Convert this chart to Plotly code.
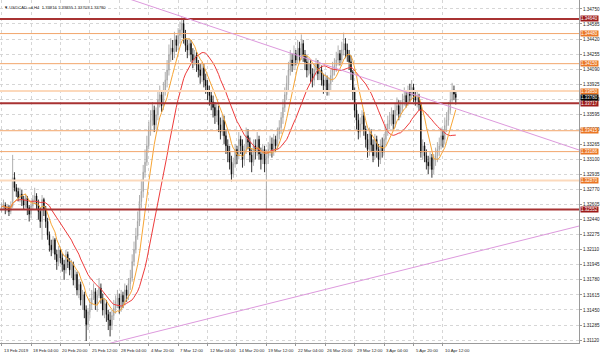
import numpy as np
import pandas as pd
import plotly.graph_objects as go

# ---------------- data ----------------
closes = [
1.3258,1.3260,1.3255,1.3258,1.3253,1.3259,1.3290,1.3279,1.3275,1.3268,
1.3272,1.3266,1.3260,1.3268,1.3257,1.3250,1.3259,1.3266,1.3270,1.3260,
1.3253,1.3242,1.3266,1.3255,1.3242,1.3227,1.3216,1.3211,1.3222,1.3206,
1.3198,1.3211,1.3202,1.3195,1.3189,1.3206,1.3198,1.3189,1.3195,1.3178,
1.3184,1.3167,1.3173,1.3156,1.3162,1.3145,1.3129,1.3143,1.3151,1.3158,
1.3165,1.3151,1.3161,1.3169,1.3158,1.3145,1.3152,1.3140,1.3134,1.3128,
1.3139,1.3147,1.3154,1.3158,1.3147,1.3161,1.3154,1.3167,1.3161,1.3174,
1.3180,1.3198,1.3211,1.3226,1.3242,1.3264,1.3275,1.3296,1.3307,1.3325,
1.3343,1.3353,1.3364,1.3348,1.3359,1.3375,1.3381,1.3369,1.3386,1.3397,
1.3408,1.3425,1.3432,1.3428,1.3441,1.3435,1.3446,1.3452,1.3459,1.3443,
1.3435,1.3430,1.3437,1.3425,1.3419,1.3424,1.3414,1.3408,1.3402,1.3410,
1.3397,1.3391,1.3384,1.3380,1.3373,1.3367,1.3358,1.3364,1.3348,1.3340,
1.3353,1.3336,1.3325,1.3318,1.3307,1.3294,1.3305,1.3321,1.3314,1.3332,
1.3325,1.3310,1.3321,1.3336,1.3329,1.3315,1.3307,1.3325,1.3318,1.3332,
1.3316,1.3310,1.3321,1.3305,1.3312,1.3321,1.3327,1.3321,1.3332,1.3325,
1.3338,1.3345,1.3356,1.3367,1.3381,1.3393,1.3408,1.3419,1.3413,1.3426,
1.3419,1.3432,1.3424,1.3437,1.3425,1.3417,1.3408,1.3415,1.3404,1.3397,
1.3408,1.3415,1.3404,1.3408,1.3397,1.3391,1.3397,1.3386,1.3393,1.3402,
1.3408,1.3413,1.3419,1.3426,1.3419,1.3430,1.3437,1.3430,1.3424,1.3417,
1.3406,1.3384,1.3364,1.3353,1.3340,1.3349,1.3358,1.3343,1.3332,1.3321,
1.3338,1.3326,1.3314,1.3332,1.3321,1.3310,1.3325,1.3318,1.3332,1.3343,
1.3349,1.3353,1.3359,1.3349,1.3364,1.3369,1.3360,1.3367,1.3375,1.3380,
1.3373,1.3384,1.3380,1.3389,1.3380,1.3375,1.3378,1.3370,1.3318,1.3325,
1.3314,1.3307,1.3303,1.3312,1.3299,1.3310,1.3314,1.3321,1.3325,1.3336,
1.3332,1.3347,1.3353,1.3364,1.3375,1.3386,1.33816,1.33780]

highs = [
1.3263,1.3266,1.3263,1.3261,1.3260,1.3264,1.3315,1.3296,1.3283,1.3279,
1.3279,1.3277,1.3270,1.3272,1.3270,1.3260,1.3264,1.3271,1.3279,1.3273,
1.3266,1.3257,1.3271,1.3268,1.3259,1.3246,1.3231,1.3222,1.3226,1.3224,
1.3211,1.3215,1.3213,1.3207,1.3200,1.3211,1.3209,1.3202,1.3200,1.3198,
1.3189,1.3187,1.3178,1.3176,1.3167,1.3165,1.3150,1.3147,1.3158,1.3167,
1.3174,1.3169,1.3167,1.3180,1.3174,1.3163,1.3158,1.3156,1.3145,1.3143,
1.3145,1.3156,1.3161,1.3167,1.3163,1.3167,1.3165,1.3174,1.3172,1.3180,
1.3189,1.3206,1.3220,1.3235,1.3253,1.3271,1.3288,1.3304,1.3321,1.3336,
1.3351,1.3364,1.3373,1.3369,1.3367,1.3384,1.3391,1.3386,1.3395,1.3406,
1.3419,1.3436,1.3443,1.3441,1.3450,1.3446,1.3454,1.3461,1.3466,1.3463,
1.3452,1.3441,1.3443,1.3441,1.3432,1.3430,1.3428,1.3419,1.3415,1.3417,
1.3415,1.3404,1.3397,1.3391,1.3386,1.3380,1.3373,1.3371,1.3369,1.3356,
1.3360,1.3358,1.3343,1.3332,1.3325,1.3314,1.3312,1.3327,1.3325,1.3340,
1.3336,1.3332,1.3327,1.3345,1.3343,1.3334,1.3321,1.3332,1.3332,1.3340,
1.3336,1.3323,1.3327,1.3325,1.3321,1.3329,1.3336,1.3334,1.3338,1.3336,
1.3345,1.3353,1.3362,1.3375,1.3389,1.3402,1.3417,1.3430,1.3426,1.3435,
1.3430,1.3441,1.3439,1.3447,1.3441,1.3430,1.3424,1.3421,1.3419,1.3410,
1.3415,1.3421,1.3419,1.3417,1.3413,1.3404,1.3404,1.3402,1.3400,1.3408,
1.3417,1.3421,1.3428,1.3435,1.3430,1.3439,1.3449,1.3443,1.3437,1.3430,
1.3424,1.3408,1.3389,1.3371,1.3360,1.3356,1.3364,1.3362,1.3347,1.3338,
1.3345,1.3343,1.3332,1.3338,1.3336,1.3327,1.3332,1.3334,1.3338,1.3349,
1.3358,1.3362,1.3367,1.3364,1.3371,1.3378,1.3375,1.3375,1.3382,1.3389,
1.3386,1.3391,1.3393,1.3397,1.3393,1.3386,1.3384,1.3382,1.3373,1.3332,
1.3329,1.3321,1.3314,1.3318,1.3316,1.3316,1.3323,1.3329,1.3334,1.3345,
1.3343,1.3356,1.3362,1.3373,1.3384,1.3394,1.3391,1.33855]

lows = [
1.3252,1.3255,1.3250,1.3252,1.3248,1.3250,1.3257,1.3275,1.3269,1.3264,
1.3263,1.3259,1.3255,1.3257,1.3249,1.3242,1.3246,1.3255,1.3261,1.3255,
1.3244,1.3235,1.3222,1.3248,1.3235,1.3222,1.3209,1.3204,1.3207,1.3200,
1.3189,1.3193,1.3196,1.3187,1.3178,1.3185,1.3191,1.3183,1.3180,1.3172,
1.3169,1.3161,1.3158,1.3150,1.3145,1.3136,1.3111,1.3123,1.3136,1.3145,
1.3156,1.3145,1.3143,1.3158,1.3152,1.3139,1.3136,1.3132,1.3123,1.3116,
1.3123,1.3134,1.3141,1.3147,1.3141,1.3143,1.3147,1.3150,1.3154,1.3156,
1.3167,1.3176,1.3193,1.3207,1.3222,1.3237,1.3257,1.3268,1.3290,1.3303,
1.3321,1.3336,1.3347,1.3340,1.3343,1.3353,1.3367,1.3362,1.3364,1.3380,
1.3389,1.3402,1.3417,1.3419,1.3421,1.3428,1.3430,1.3437,1.3443,1.3437,
1.3428,1.3421,1.3424,1.3417,1.3410,1.3413,1.3406,1.3400,1.3393,1.3395,
1.3389,1.3382,1.3375,1.3369,1.3364,1.3356,1.3349,1.3351,1.3340,1.3332,
1.3336,1.3327,1.3316,1.3307,1.3299,1.3286,1.3290,1.3301,1.3305,1.3310,
1.3316,1.3301,1.3303,1.3316,1.3321,1.3307,1.3296,1.3303,1.3310,1.3314,
1.3310,1.3299,1.3305,1.3296,1.3255,1.3305,1.3314,1.3312,1.3314,1.3318,
1.3321,1.3332,1.3338,1.3349,1.3362,1.3375,1.3386,1.3402,1.3406,1.3408,
1.3413,1.3415,1.3417,1.3419,1.3417,1.3408,1.3400,1.3402,1.3395,1.3389,
1.3391,1.3402,1.3397,1.3397,1.3391,1.3382,1.3384,1.3380,1.3380,1.3386,
1.3395,1.3402,1.3406,1.3413,1.3413,1.3415,1.3424,1.3421,1.3417,1.3408,
1.3397,1.3375,1.3356,1.3343,1.3332,1.3334,1.3343,1.3336,1.3323,1.3312,
1.3314,1.3318,1.3307,1.3310,1.3312,1.3302,1.3305,1.3312,1.3314,1.3325,
1.3336,1.3343,1.3347,1.3343,1.3345,1.3358,1.3353,1.3356,1.3362,1.3369,
1.3367,1.3369,1.3373,1.3375,1.3373,1.3369,1.3367,1.3364,1.3312,1.3310,
1.3307,1.3299,1.3294,1.3299,1.3290,1.3294,1.3303,1.3307,1.3314,1.3321,
1.3323,1.3327,1.3340,1.3347,1.3360,1.3371,1.3375,1.33703]

first_open = 1.3255
opens = [first_open] + closes[:-1]   # forex H4: each bar opens at previous close

tick_labels = ["13 Feb 2019", "18 Feb 04:00", "20 Feb 20:00", "25 Feb 12:00",
               "28 Feb 04:00", "4 Mar 20:00", "7 Mar 12:00", "12 Mar 04:00",
               "14 Mar 20:00", "19 Mar 12:00", "22 Mar 04:00", "26 Mar 20:00",
               "29 Mar 12:00", "3 Apr 04:00", "5 Apr 20:00", "10 Apr 12:00"]
tick_bars = [0, 16, 32, 48, 64, 80, 96, 112, 128, 144, 160, 176, 192, 208, 224, 240]

price_ticks = [1.31120, 1.31285, 1.31450, 1.31615, 1.31780, 1.31945, 1.32110,
               1.32275, 1.32440, 1.32605, 1.32770, 1.32935, 1.33100, 1.33265,
               1.33430, 1.33595, 1.33760, 1.33925, 1.34090, 1.34255, 1.34420,
               1.34585, 1.34750]

levels_dark = [1.34640, 1.33717, 1.32552]
levels_orange = [1.34480, 1.34150, 1.33415, 1.33186]
levels_light = [1.33850, 1.32870]
bid_price = 1.33780

# trend line anchor points (bar index, price)
upper_trend = [(98.6, 1.34662), (314.0, 1.33204)]
lower_trend = [(61.7, 1.31099), (314.0, 1.32370)]

title_text = "USDCAD-cd,H4  1.33816 1.33855 1.33703 1.33780"

# ---------------- figure ----------------
n = len(closes)
bars = list(range(n))
s = pd.Series(closes)
ma_fast = s.rolling(8, min_periods=1).mean()
ma_slow = s.rolling(21, min_periods=1).mean()

FONT = "Liberation Sans"
fig = go.Figure()

fig.add_trace(go.Candlestick(
    x=bars, open=opens, high=highs, low=lows, close=closes,
    increasing=dict(line=dict(color="#9c9c9c", width=0.8), fillcolor="white"),
    decreasing=dict(line=dict(color="black", width=0.8), fillcolor="black"),
    whiskerwidth=0, showlegend=False, hoverinfo="skip"))

fig.add_trace(go.Scatter(x=bars, y=ma_slow, mode="lines",
                         line=dict(color="#EE3B3B", width=1), showlegend=False))
fig.add_trace(go.Scatter(x=bars, y=ma_fast, mode="lines",
                         line=dict(color="#F7A535", width=1), showlegend=False))

shapes = []
def add_level(p, color, width):
    shapes.append(dict(type="line", xref="paper", x0=0, x1=1, yref="y", y0=p, y1=p,
                       line=dict(color=color, width=width), layer="above"))

for p in levels_light:
    add_level(p, "#FCD9BC", 2)
for p in levels_orange:
    add_level(p, "#F2A66B", 1)
for p in levels_dark:
    add_level(p, "#A83232", 2)

def trend(pts, color):
    (x0, y0), (x1, y1) = pts
    slope = (y1 - y0) / (x1 - x0)
    xa, xb = -5, 330
    shapes.append(dict(type="line", xref="x", yref="y", x0=xa, x1=xb,
                       y0=y0 + slope * (xa - x0), y1=y0 + slope * (xb - x0),
                       line=dict(color=color, width=1), layer="above"))
trend(upper_trend, "#DD99DD")
trend(lower_trend, "#DD99DD")

annotations = []
for lab, b in zip(tick_labels, tick_bars):
    annotations.append(dict(x=b, xref="x", y=0, yref="paper", yanchor="top",
                            xanchor="left", text=lab, showarrow=False, yshift=-3,
                            xshift=0, font=dict(family=FONT, size=4.3, color="#222")))

def level_label(p, bg):
    annotations.append(dict(x=1, xref="paper", y=p, yref="y", xanchor="left",
                            yanchor="middle", text=f"{p:.5f}", showarrow=False,
                            xshift=1, bgcolor=bg, borderpad=0, height=5.4,
                            valign="middle",
                            font=dict(family=FONT, size=4.5, color="white")))
for p in levels_orange + levels_light:
    level_label(p, "#EA7624")
for p in levels_dark:
    level_label(p, "#9C1A1A")
level_label(bid_price, "#000000")

annotations.append(dict(x=0, xref="paper", y=1, yref="paper", xanchor="left",
                        yanchor="top", xshift=2, yshift=-3,
                        text="▼ " + title_text, showarrow=False,
                        font=dict(family=FONT, size=4.2, color="#222")))

fig.update_layout(
    width=600, height=357,
    margin=dict(l=0, r=21, t=0, b=14),
    paper_bgcolor="white", plot_bgcolor="white",
    shapes=shapes, annotations=annotations,
    showlegend=False, boxgap=0.55,
    xaxis=dict(range=[-0.87, 314], tickvals=tick_bars, showticklabels=False,
               showgrid=True, gridcolor="#D6D6D6", griddash="dot", gridwidth=1,
               zeroline=False, showline=True, linecolor="#9a9a9a", mirror=True,
               ticks="outside", ticklen=2, tickcolor="#9a9a9a",
               rangeslider=dict(visible=False), fixedrange=True),
    yaxis=dict(range=[1.31088, 1.34848], side="right", tickvals=price_ticks,
               ticktext=[f"{p:.5f}" for p in price_ticks],
               tickfont=dict(family=FONT, size=4.6, color="#222"),
               showgrid=True, gridcolor="#D6D6D6", griddash="dot", gridwidth=1,
               zeroline=False, showline=True, linecolor="#9a9a9a", mirror=True,
               ticks="outside", ticklen=2, tickcolor="#9a9a9a", fixedrange=True),
)

fig.write_html("out.html")
